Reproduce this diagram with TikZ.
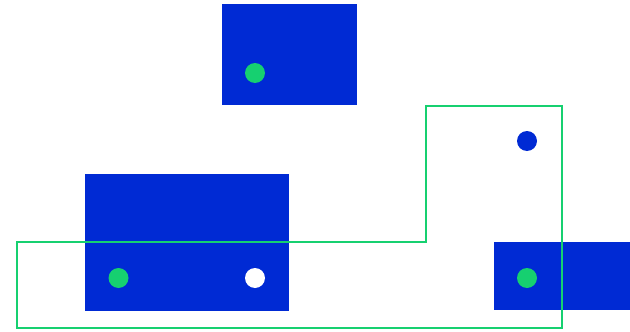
\documentclass[tikz,border=0pt]{standalone}
\usepackage{tikz}
\usetikzlibrary{positioning,calc}
\usepackage{xcolor}

\definecolor{blockblue}{RGB}{0,42,212}
\definecolor{linegreen}{RGB}{22,208,112}

\begin{document}
\begin{tikzpicture}[
    x=1pt, y=-1pt,
    block/.style = {rectangle, draw=none, fill=blockblue, inner sep=0pt},
    dot/.style = {circle, draw=none, inner sep=0pt, minimum size=20pt},
    region/.style = {draw=linegreen, line width=2.6pt, line join=miter}
]
    \useasboundingbox (0,0) rectangle (630,332);

    % 1. Blue blocks
    \node [block, minimum width=135pt, minimum height=101pt] (topblock) at (289.5,54.5) {};
    \node [block, minimum width=204pt, minimum height=137pt] (leftblock) at (187,242) {};
    \node [block, minimum width=136pt, minimum height=68pt] (rightblock) at (562,276) {};

    % 2. Dots
    \node [dot, fill=linegreen] (topdot) at (255,73) {};
    \node [dot, fill=linegreen] (leftdot) at (118.5,278) {};
    \node [dot, fill=white] (middot) at (255,278) {};
    \node [dot, fill=blockblue] (outdot) at (527,141) {};
    \node [dot, fill=linegreen] (rightdot) at (527,278) {};

    % 3. Green outline
    \coordinate (p1) at (17,242);
    \coordinate (p2) at (426,242);
    \coordinate (p3) at (426,106);
    \coordinate (p4) at (562,106);
    \coordinate (p5) at (562,328);
    \coordinate (p6) at (17,328);
    \draw [region] (p1) -- (p2) -- (p3) -- (p4) -- (p5) -- (p6) -- cycle;
\end{tikzpicture}
\end{document}
